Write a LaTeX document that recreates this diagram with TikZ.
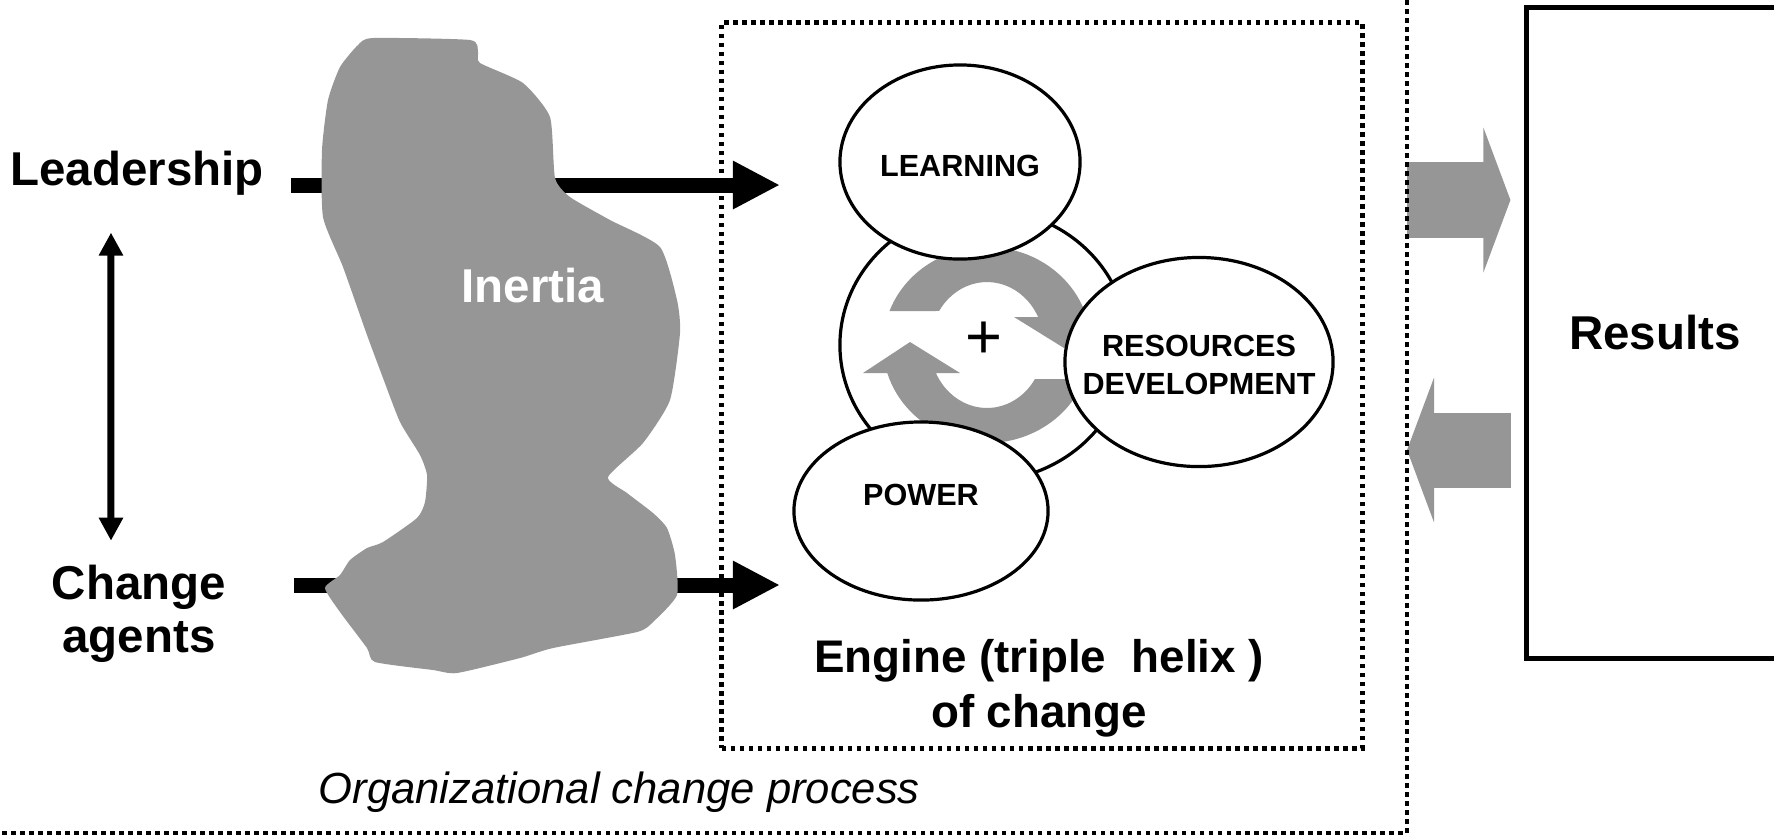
\documentclass[tikz,border=0pt]{standalone}
\usepackage{fontspec}
\setmainfont{Liberation Sans}
\usetikzlibrary{arrows.meta, shapes.geometric}
\definecolor{inertiagray}{RGB}{150,150,150}
\tikzset{
        bigtext/.style={font=\fontsize{13.5}{15}\selectfont\bfseries, inner sep=0pt}, % left labels, results
        helixtext/.style={font=\fontsize{8.7}{10.8}\selectfont\bfseries, inner sep=0pt, align=center},
        helix/.style={draw, ellipse, line width=0.032cm, fill=white, inner sep=0pt}, % the three strands
        drive/.style={line width=0.15cm, -{Triangle[length=0.47cm, width=0.45cm]}},
        link/.style={line width=0.07cm, {Triangle[length=0.23cm, width=0.23cm]}-{Triangle[length=0.23cm, width=0.23cm]}},
        feed/.style={draw=inertiagray, line width=0.75cm, -{Triangle[length=0.27cm, width=1.44cm]}},
        dotframe/.style={line width=0.05cm, dash pattern=on 0.045cm off 0.045cm},
    }

\begin{document}
\begin{tikzpicture}[x=0.01cm, y=-0.01cm]
    \useasboundingbox (0,0) rectangle (1774,835);
    % actors
    \node[bigtext, anchor=base] (lead) at (137,185) {Leadership};
    \node[bigtext, align=center] (agents) at (139,614) {Change\\agents};
    \coordinate (leadend) at (780,186);
    \coordinate (agentsend) at (780,585);
    \draw[drive] ([xshift=0.27cm]lead.base east) -- (lead.base east -| leadend);
    \draw[drive] ([xshift=0.67cm, yshift=0.29cm]agents.east) -- ([yshift=0.29cm]agents.east -| agentsend);
    \draw[link] ([xshift=-0.26cm, yshift=-0.37cm]lead.south) -- ([xshift=-0.28cm, yshift=0.24cm]agents.north);
    % inertia
    \fill[inertiagray] plot[smooth cycle, tension=0.35] coordinates {
        (373,38) (470,40) (478,52) (480,63) (523,83) (550,117) (555,178) (570,197)
        (610,220) (660,247) (677,300) (680,333) (670,400) (643,443) (608,477) (627,493)
        (653,513) (667,528) (675,555) (677,595) (653,622) (637,632) (553,648) (520,658)
        (457,673) (433,670) (375,662) (367,648) (340,612) (325,588) (340,575) (350,560)
        (367,548) (383,542) (417,518) (425,502) (427,475) (420,455) (400,422) (383,378)
        (367,335) (343,267) (323,217) (322,150) (328,100) (340,67) (358,45)};
    \node[bigtext, text=white, anchor=base] (inertia) at (533,302) {Inertia};
    % engine
    \node[dotframe, draw, minimum width=6.4cm, minimum height=7.25cm] (engine) at (1042,385.5) {};
    \node[helix, minimum width=2.88cm, minimum height=2.72cm] (ring) at (984,345) {};
    \fill[inertiagray] (1084.5,379) arc[start angle=20.3, end angle=163.4, x radius=104, y radius=98]
        -- (863,373) -- (910,342) -- (960,373) -- (935.9,373)
        arc[start angle=153.6, end angle=32.7, x radius=57, y radius=63] -- cycle;
    \fill[inertiagray] (889.5,311) arc[start angle=200.3, end angle=343.4, x radius=104, y radius=98]
        -- (1111,317) -- (1064,348) -- (1014,317) -- (1038.1,317)
        arc[start angle=333.6, end angle=212.7, x radius=57, y radius=63] -- cycle;
    \node[inner sep=0pt] (plus) at (984,340) {\fontsize{18}{18}\selectfont +};
    \node[helix, minimum width=2.4cm, minimum height=1.94cm,
        label={[helixtext, yshift=-0.04cm]center:LEARNING}] (learn) at (960,162) {};
    \node[helix, minimum width=2.68cm, minimum height=2.09cm,
        label={[helixtext, yshift=-0.03cm]center:RESOURCES\\DEVELOPMENT}] (resources) at (1199,362) {};
    \node[helix, minimum width=2.54cm, minimum height=1.78cm,
        label={[helixtext, yshift=0.16cm]center:POWER}] (power) at (921,511) {};
    \node[font=\fontsize{13}{15.6}\selectfont\bfseries, align=center, inner sep=0pt] (enginetext)
        at (1039,688) {Engine (triple\ \ helix )\\of change};
    \node[font=\fontsize{12.4}{14}\selectfont\itshape, anchor=base west, inner sep=0pt] (orgproc)
        at (318,803) {Organizational change process};
    % results
    \node[bigtext, draw, line width=0.05cm, minimum width=2.56cm, minimum height=6.5cm] (results) at (1655,333) {Results};
    \coordinate (feedout) at (1407,200);
    \coordinate (feedin) at (1407,450);
    \draw[feed, shorten >=0.14cm] (feedout) -- (feedout -| results.west);
    \draw[feed, shorten <=0.13cm] (feedin -| results.west) -- (feedin);
    \coordinate (proccorner) at (1407,833);
    \draw[dotframe, line width=0.04cm] (1407,0) -- (proccorner) -- (0,833);
\end{tikzpicture}
\end{document}
